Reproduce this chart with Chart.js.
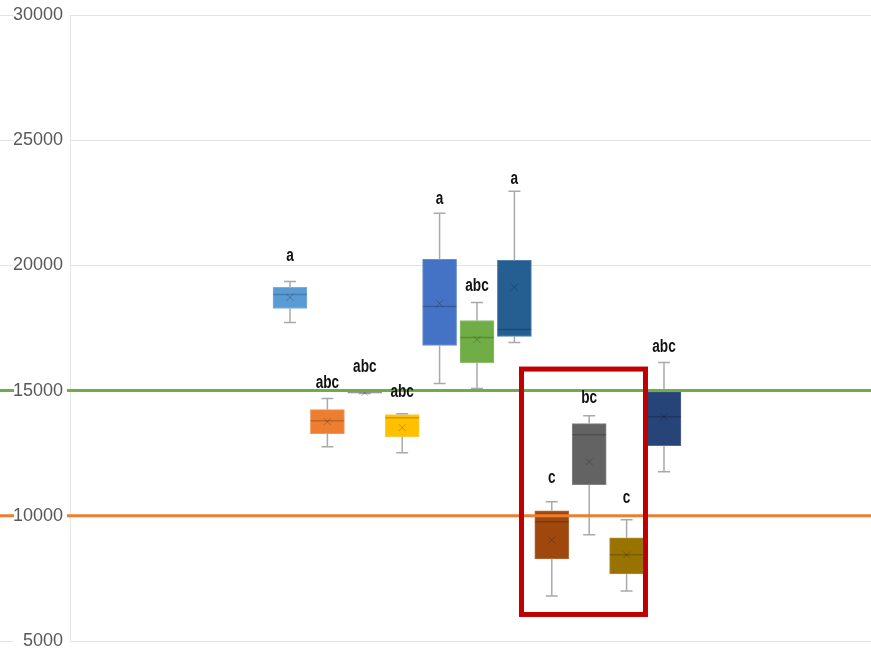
<!DOCTYPE html>
<html>
<head>
<meta charset="utf-8">
<script src="https://cdn.jsdelivr.net/npm/chart.js@4/dist/chart.umd.min.js"></script>
<style>
  html, body { margin: 0; padding: 0; background: #ffffff; }
  #wrap { width: 871px; height: 655px; }
</style>
</head>
<body>
<div id="wrap"><canvas id="c" width="871" height="655"></canvas></div>
<script>
// ---- Data ----
const categories = ['G1','G2','G3','G4','G5','G6','G7','G8','G9','G10','G11'];
const whiskerMin = [17720, 12760, 14880, 12520, 15280, 15080, 16920, 6800, 9240, 7000, 11760];
const quartile1  = [18280, 13280, 14900, 13160, 16800, 16120, 17160, 8280, 11240, 7680, 12800];
const medians    = [18840, 13800, 14920, 13920, 18360, 17120, 17440, 9760, 13240, 8440, 13960];
const quartile3  = [19120, 14240, 14950, 14040, 20240, 17800, 20200, 10200, 13680, 9120, 14960];
const whiskerMax = [19360, 14680, 14960, 14080, 22080, 18520, 22960, 10560, 14000, 9840, 16120];
const means      = [18720, 13760, 14920, 13520, 18480, 17040, 19120, 9040, 12160, 8440, 13960];
const letters    = ['a', 'abc', 'abc', 'abc', 'a', 'abc', 'a', 'c', 'bc', 'c', 'abc'];
const letterAt   = [20360, 15320, 15920, 14960, 22640, 19160, 23440, 11520, 14720, 10720, 16720];
const boxColors  = ['#5B9BD5','#ED7D31','#A5A5A5','#FFC000','#4472C4','#70AD47','#255E91','#9E480E','#636363','#997300','#264478'];
const thresholds = [15000, 10000];
const thresholdColors = ['#70AD47', '#ED7D31'];
const yTicks = [5000, 10000, 15000, 20000, 25000, 30000];
// highlighted group (categories 8..10) in data units: [xFrom, xTo, yFrom, yTo]
const highlight = [7.19, 10.505, 6060, 15860];

const positions = categories.map((c, i) => i + 1);

const boxPlugin = {
  id: 'boxExtras',
  afterDatasetsDraw(chart) {
    const ctx = chart.ctx;
    const xs = chart.scales.x, ys = chart.scales.y;
    const area = chart.chartArea;
    const half = 17, cap = 6;
    ctx.save();
    // left gridline stubs
    ctx.strokeStyle = '#e3e3e3';
    ctx.lineWidth = 1;
    yTicks.forEach(v => {
      const py = Math.round(ys.getPixelForValue(v)) + 0.5;
      ctx.beginPath(); ctx.moveTo(0, py); ctx.lineTo(13, py); ctx.stroke();
    });
    // whiskers, medians, means
    positions.forEach((p, i) => {
      const cx = xs.getPixelForValue(p);
      ctx.strokeStyle = '#a9a9a9';
      ctx.lineWidth = 1.5;
      const yMax = ys.getPixelForValue(whiskerMax[i]);
      const yMin = ys.getPixelForValue(whiskerMin[i]);
      const yQ1 = ys.getPixelForValue(quartile1[i]);
      const yQ3 = ys.getPixelForValue(quartile3[i]);
      ctx.beginPath();
      ctx.moveTo(cx, yMax); ctx.lineTo(cx, yQ3);
      ctx.moveTo(cx, yQ1); ctx.lineTo(cx, yMin);
      ctx.moveTo(cx - cap, yMax); ctx.lineTo(cx + cap, yMax);
      ctx.moveTo(cx - cap, yMin); ctx.lineTo(cx + cap, yMin);
      ctx.stroke();
      const yMed = ys.getPixelForValue(medians[i]);
      ctx.strokeStyle = 'rgba(0,0,0,0.2)';
      ctx.lineWidth = 1.5;
      ctx.beginPath(); ctx.moveTo(cx - half, yMed); ctx.lineTo(cx + half, yMed); ctx.stroke();
      const yMean = ys.getPixelForValue(means[i]);
      ctx.strokeStyle = 'rgba(0,0,0,0.22)';
      ctx.lineWidth = 1;
      ctx.beginPath();
      ctx.moveTo(cx - 3.5, yMean - 3.5); ctx.lineTo(cx + 3.5, yMean + 3.5);
      ctx.moveTo(cx + 3.5, yMean - 3.5); ctx.lineTo(cx - 3.5, yMean + 3.5);
      ctx.stroke();
    });
    // threshold lines
    thresholds.forEach((v, i) => {
      const py = ys.getPixelForValue(v);
      ctx.strokeStyle = thresholdColors[i];
      ctx.lineWidth = 3;
      ctx.beginPath();
      ctx.moveTo(0, py); ctx.lineTo(14, py);
      ctx.moveTo(area.left - 3, py); ctx.lineTo(chart.width, py);
      ctx.stroke();
    });
    // group letters
    ctx.fillStyle = '#111111';
    ctx.textAlign = 'center';
    ctx.textBaseline = 'middle';
    ctx.font = 'bold 17px "Liberation Sans", Arial, sans-serif';
    positions.forEach((p, i) => {
      const cx = xs.getPixelForValue(p);
      const py = ys.getPixelForValue(letterAt[i]);
      ctx.save();
      ctx.translate(cx, py);
      ctx.scale(0.8, 1.05);
      ctx.fillText(letters[i], 0, 0);
      ctx.restore();
    });
    // highlight rectangle
    const x0 = xs.getPixelForValue(highlight[0]);
    const x1 = xs.getPixelForValue(highlight[1]);
    const y0 = ys.getPixelForValue(highlight[2]);
    const y1 = ys.getPixelForValue(highlight[3]);
    ctx.strokeStyle = '#C00000';
    ctx.lineWidth = 5;
    ctx.strokeRect(x0, y1, x1 - x0, y0 - y1);
    ctx.restore();
  }
};

new Chart(document.getElementById('c'), {
  type: 'bar',
  data: {
    datasets: [{
      data: positions.map((p, i) => ({ x: p, y: [quartile1[i], quartile3[i]] })),
      backgroundColor: boxColors,
      borderColor: boxColors.map(c => c + 'cc'),
      borderWidth: 1,
      borderSkipped: false,
      barThickness: 34
    }]
  },
  options: {
    responsive: false,
    animation: false,
    events: [],
    layout: { padding: { top: 15, bottom: 14, left: 0, right: 0 } },
    plugins: { legend: { display: false }, tooltip: { enabled: false } },
    scales: {
      x: {
        type: 'linear',
        display: false,
        offset: false,
        min: -4.882,
        max: 16.535
      },
      y: {
        min: 5000,
        max: 30000,
        afterBuildTicks: (scale) => { scale.ticks = yTicks.map(v => ({ value: v })); },
        afterFit: (scale) => { scale.width = 70; scale.paddingTop = 0; scale.paddingBottom = 0; },
        grid: { color: '#e3e3e3', drawTicks: false, lineWidth: 1 },
        border: { display: true, color: '#e6e6e6', width: 1 },
        ticks: {
          padding: 7,
          color: '#595959',
          callback: (v) => String(v),
          font: { family: '"Liberation Sans", Arial, sans-serif', size: 18 }
        }
      }
    }
  },
  plugins: [boxPlugin]
});
</script>
</body>
</html>
